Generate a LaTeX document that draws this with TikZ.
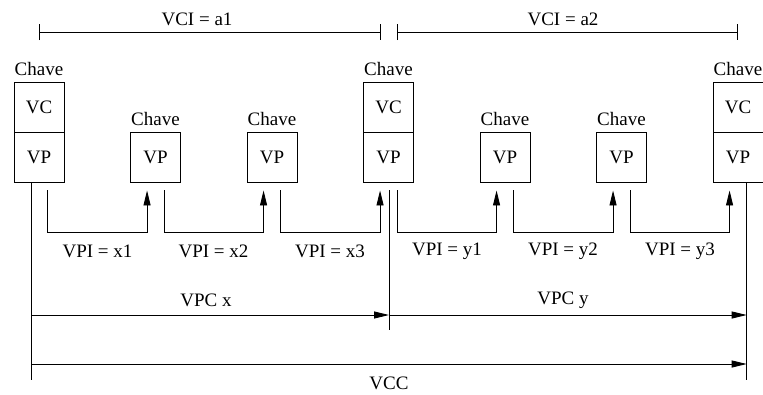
\documentclass[tikz,border=0pt]{standalone}
\usepackage{fontspec}
\setmainfont{Liberation Serif}
\usetikzlibrary{arrows.meta}
\begin{document}
\begin{tikzpicture}[x=1pt,y=-1pt,
  every node/.style={font=\fontsize{19}{22}\selectfont},
  boxnode/.style={draw,line width=0.9pt,minimum width=50pt,minimum height=50pt,inner sep=0pt},
  lbl/.style={inner sep=0pt,anchor=base},
  ln/.style={line width=0.9pt},
  conn/.style={line width=0.9pt,-{Triangle[length=15pt,width=7pt]}},
  span/.style={line width=0.9pt,{Bar[width=16pt]}-{Bar[width=16pt]}}]
\useasboundingbox (0,0) rectangle (763,394);

% big boxes (VC over VP)
\node[boxnode] (vc1) at (39,107) {VC};
\node[boxnode] (vp1) at (39,157) {VP};
\node[boxnode] (vc4) at (388.5,107) {VC};
\node[boxnode] (vp4) at (388.5,157) {VP};
\node[boxnode] (vc7) at (738,107) {VC};
\node[boxnode] (vp7) at (738,157) {VP};
% small boxes
\node[boxnode] (vp2) at (155.5,157) {VP};
\node[boxnode] (vp3) at (272,157) {VP};
\node[boxnode] (vp5) at (505,157) {VP};
\node[boxnode] (vp6) at (621.5,157) {VP};

% Chave labels
\node[lbl] (ch1) at (39,75) {Chave};
\node[lbl] (ch4) at (388.5,75) {Chave};
\node[lbl] (ch7) at (738,75) {Chave};
\node[lbl] (ch2) at (155.5,125) {Chave};
\node[lbl] (ch3) at (272,125) {Chave};
\node[lbl] (ch5) at (505,125) {Chave};
\node[lbl] (ch6) at (621.5,125) {Chave};

% VCI spans
\coordinate (a1s) at (39,32);
\coordinate (a1e) at (380.7,32);
\coordinate (a2s) at (396.7,32);
\coordinate (a2e) at (738,32);
\draw[span] (a1s) -- (a1e);
\draw[span] (a2s) -- (a2e);
\node (vci1) at (197,19) {VCI = a1};
\node (vci2) at (563,19) {VCI = a2};

% VPI connectors
\draw[conn] ([shift={(-17,8)}]vp1.south east) -- ++(0,42) -| ([shift={(17,8)}]vp2.south west);
\draw[conn] ([shift={(-17,8)}]vp2.south east) -- ++(0,42) -| ([shift={(17,8)}]vp3.south west);
\draw[conn] ([shift={(-17,8)}]vp3.south east) -- ++(0,42) -| ([shift={(17,8)}]vp4.south west);
\draw[conn] ([shift={(-17,8)}]vp4.south east) -- ++(0,42) -| ([shift={(17,8)}]vp5.south west);
\draw[conn] ([shift={(-17,8)}]vp5.south east) -- ++(0,42) -| ([shift={(17,8)}]vp6.south west);
\draw[conn] ([shift={(-17,8)}]vp6.south east) -- ++(0,42) -| ([shift={(17,8)}]vp7.south west);

\node (x1) at (97.5,251) {VPI = x1};
\node (x2) at (213.5,251) {VPI = x2};
\node (x3) at (330,251) {VPI = x3};
\node (y1) at (447,251) {VPI = y1};
\node (y2) at (563,251) {VPI = y2};
\node (y3) at (680,251) {VPI = y3};

% vertical reference lines
\coordinate (l0) at (31,182);
\coordinate (l1) at (31,380);
\coordinate (m0) at (389,190);
\coordinate (m1) at (389,330);
\coordinate (r0) at (746.7,182);
\coordinate (r1) at (746.7,380);
\draw[ln] (l0) -- (l1);
\draw[ln] (m0) -- (m1);
\draw[ln] (r0) -- (r1);

% VPC and VCC arrows
\coordinate (px0) at (31,315);
\coordinate (px1) at (389,315);
\coordinate (py1) at (746.7,315);
\coordinate (cc0) at (31,364);
\coordinate (cc1) at (746.7,364);
\draw[conn] (px0) -- (px1);
\draw[conn] (px1) -- (py1);
\draw[conn] (cc0) -- (cc1);
\node (vpcx) at (206,300) {VPC x};
\node (vpcy) at (563,300) {VPC y};
\node (vcc) at (389,383) {VCC};
\end{tikzpicture}
\end{document}
